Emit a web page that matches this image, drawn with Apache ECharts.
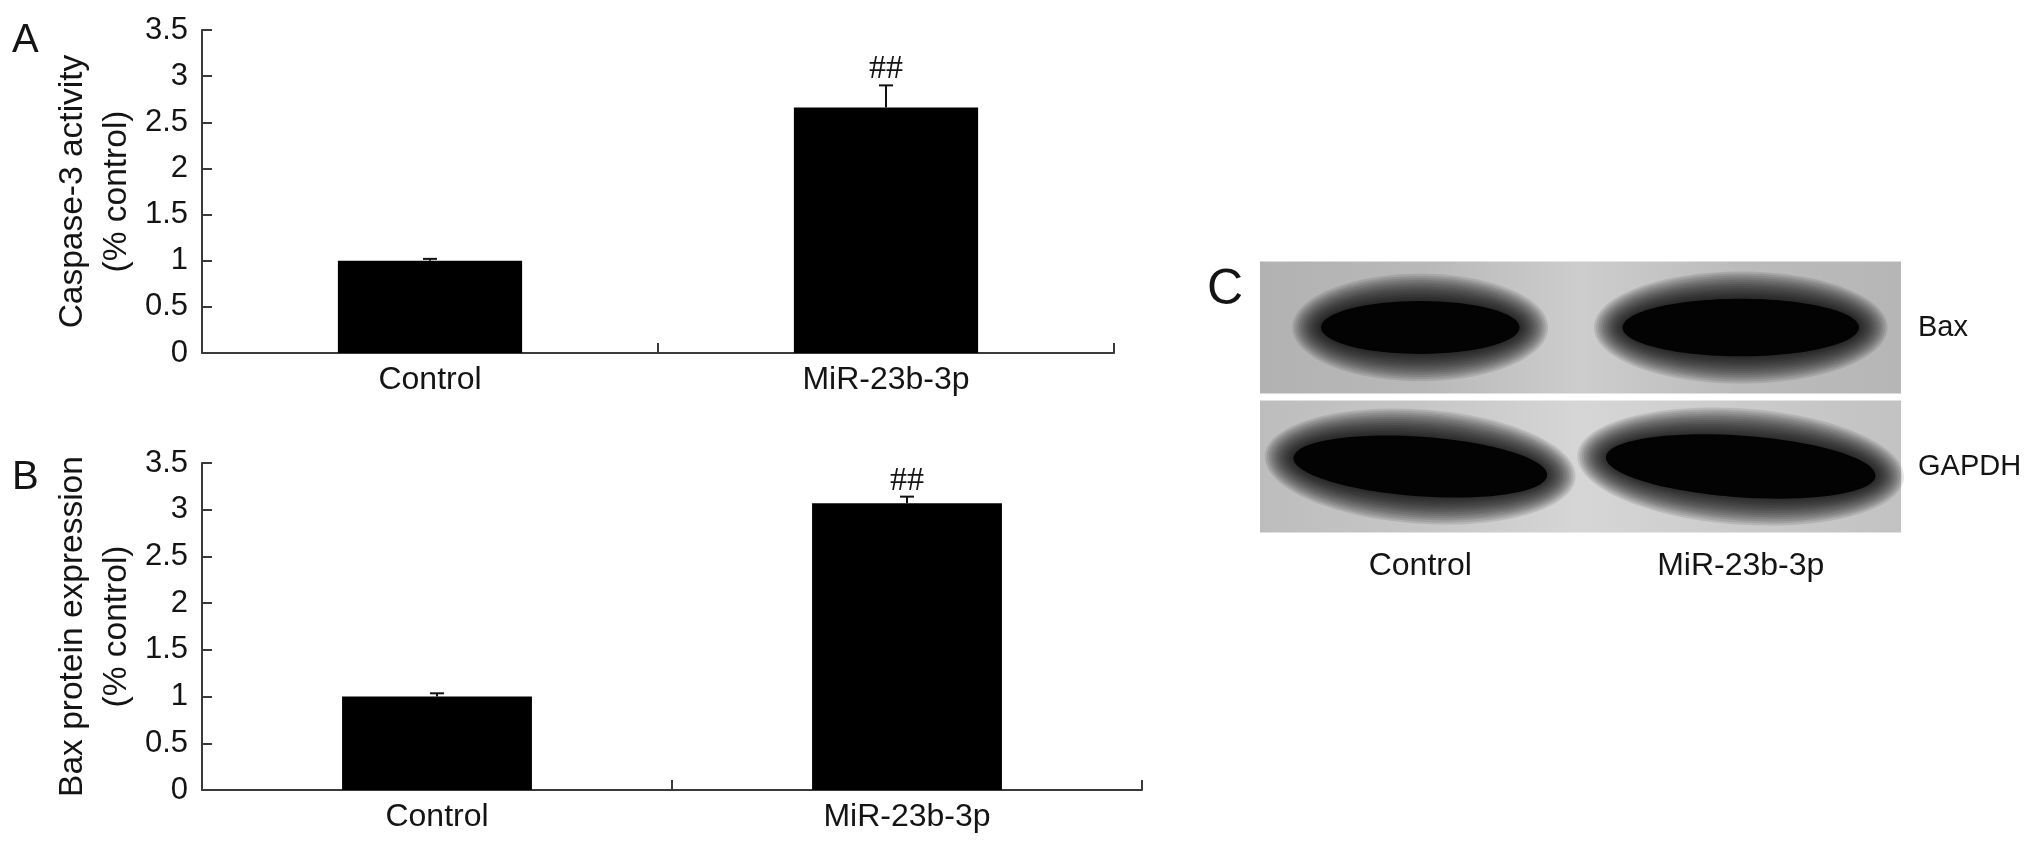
<!DOCTYPE html>
<html>
<head>
<meta charset="utf-8">
<style>
  html, body { margin: 0; padding: 0; background: #fff; }
  #chart { width: 2032px; height: 850px; }
</style>
<script src="https://cdn.jsdelivr.net/npm/echarts@6.0.0/dist/echarts.min.js"></script>
</head>
<body>
<div id="chart"></div>
<script>
// values
const categories = ['Control', 'MiR-23b-3p'];
const caspaseMean = [1.0, 2.66];
const caspaseErr = [0.02, 0.24];
const caspaseSig = ['', '##'];
const baxMean = [1.0, 3.07];
const baxErr = [0.035, 0.07];
const baxSig = ['', '##'];
// western blot, rows bottom -> top
const blotRows = ['GAPDH', 'Bax'];
// relative band density [lane, row, density]
const blotBands = [
  [0, 0, 1.28],
  [1, 0, 1.36],
  [0, 1, 1.0],
  [1, 1, 1.19],
];

const FONT = '"Liberation Sans", Arial, Helvetica, sans-serif';
const INK = '#141414';
const AXIS = '#3a3a3a';

let myChart = echarts.init(document.getElementById('chart'));

function barXAxis(gridIndex) {
  return {
    gridIndex,
    type: 'category',
    data: categories,
    axisLine: { show: true, lineStyle: { color: AXIS, width: 2 } },
    axisTick: { show: true, inside: true, length: 10, lineStyle: { color: AXIS, width: 2 } },
    axisLabel: { color: INK, fontFamily: FONT, fontSize: 32, margin: 11 },
    splitLine: { show: false },
  };
}

function barYAxis(gridIndex, name) {
  return {
    gridIndex,
    type: 'value',
    min: 0,
    max: 3.5,
    interval: 0.5,
    name,
    nameLocation: 'middle',
    nameRotate: 90,
    nameGap: 63,
    nameTextStyle: { color: INK, fontFamily: FONT, fontSize: 33.5, lineHeight: 44 },
    axisLine: { show: true, lineStyle: { color: AXIS, width: 2 } },
    axisTick: { show: true, inside: true, length: 10, lineStyle: { color: AXIS, width: 2 } },
    axisLabel: { color: INK, fontFamily: FONT, fontSize: 31, margin: 14 },
    splitLine: { show: false },
  };
}

// error bar (upper half only) + significance mark
function errorBars(sigs) {
  return function (params, api) {
    const x = api.value(0);
    const mean = api.value(1);
    const err = api.value(2);
    const base = api.coord([x, mean]);
    const top = api.coord([x, mean + err]);
    const lineStyle = { stroke: '#111', lineWidth: 2 };
    const children = [
      { type: 'line', shape: { x1: top[0], y1: base[1], x2: top[0], y2: top[1] }, style: lineStyle },
      { type: 'line', shape: { x1: top[0] - 7, y1: top[1], x2: top[0] + 7, y2: top[1] }, style: lineStyle },
    ];
    const sig = sigs[params.dataIndex];
    if (sig) {
      children.push({
        type: 'text',
        x: top[0],
        y: top[1] + 1,
        style: {
          text: sig,
          fill: INK,
          font: '34px "Liberation Serif", "Times New Roman", serif',
          align: 'center',
          verticalAlign: 'bottom',
        },
      });
    }
    return { type: 'group', children };
  };
}

// gray membrane strip for each blot row
function blotStrip(params, api) {
  const cs = params.coordSys;
  const row = api.value(0);
  const cy = api.coord([0, row])[1];
  const h = api.size([0, 1])[1];
  const tones = row === 0
    ? ['#bdbdbd', '#c6c6c6', '#d6d6d6', '#cbcbcb', '#c2c2c2']
    : ['#b2b2b2', '#b8b8b8', '#cdcdcd', '#bbbbbb', '#b6b6b6'];
  return {
    type: 'rect',
    shape: { x: cs.x, y: cy - h / 2 + 3.5, width: cs.width, height: h - 7 },
    style: {
      fill: new echarts.graphic.LinearGradient(0, 0, 1, 0, [
        { offset: 0, color: tones[0] },
        { offset: 0.25, color: tones[1] },
        { offset: 0.5, color: tones[2] },
        { offset: 0.75, color: tones[3] },
        { offset: 1, color: tones[4] },
      ]),
    },
  };
}

// fuzzy dark band: stacked translucent ellipses around a solid core
function blotBand(params, api) {
  const lane = api.value(0);
  const row = api.value(1);
  const d = api.value(2);
  const c = api.coord([lane, row]);
  const size = api.size([1, 1]);
  const rx = size[0] * 0.31 * d;
  const ry = size[1] * 0.19 * Math.sqrt(d);
  const children = [];
  const layers = 13;
  for (let k = layers; k >= 1; k--) {
    children.push({
      type: 'ellipse',
      shape: { cx: 0, cy: 0, rx: rx + k * 2.2, ry: ry + k * 2.1 },
      style: { fill: 'rgba(0,0,0,0.1)' },
    });
  }
  children.push({
    type: 'ellipse',
    shape: { cx: 0, cy: 0, rx, ry },
    style: { fill: '#030303' },
  });
  return {
    type: 'group',
    x: c[0],
    y: c[1],
    rotation: row === 0 ? -0.07 : 0,
    children,
  };
}

let option = {
  backgroundColor: '#fff',
  animation: false,
  title: [
    { text: 'A', left: 12, top: 21, padding: 0, textStyle: { fontFamily: FONT, fontSize: 40, fontWeight: 'normal', color: INK } },
    { text: 'B', left: 12, top: 458, padding: 0, textStyle: { fontFamily: FONT, fontSize: 40, fontWeight: 'normal', color: INK } },
    { text: 'C', left: 1207, top: 265, padding: 0, textStyle: { fontFamily: FONT, fontSize: 50, fontWeight: 'normal', color: INK } },
  ],
  grid: [
    { left: 202, top: 30, width: 912, height: 323, outerBoundsMode: 'none' },
    { left: 202, top: 463, width: 940, height: 327, outerBoundsMode: 'none' },
    { left: 1260, top: 258, width: 641, height: 278, outerBoundsMode: 'none' },
  ],
  xAxis: [
    barXAxis(0),
    barXAxis(1),
    {
      gridIndex: 2,
      type: 'category',
      data: categories,
      axisLine: { show: false },
      axisTick: { show: false },
      axisLabel: { color: INK, fontFamily: FONT, fontSize: 32, margin: 14 },
      splitLine: { show: false },
    },
  ],
  yAxis: [
    barYAxis(0, 'Caspase-3 activity\n(% control)'),
    barYAxis(1, 'Bax protein expression\n(% control)'),
    {
      gridIndex: 2,
      type: 'category',
      position: 'right',
      data: blotRows,
      axisLine: { show: false },
      axisTick: { show: false },
      axisLabel: { color: INK, fontFamily: FONT, fontSize: 29, margin: 17, align: 'left' },
      splitLine: { show: false },
    },
  ],
  series: [
    {
      name: 'Caspase-3',
      type: 'bar',
      xAxisIndex: 0,
      yAxisIndex: 0,
      barWidth: '40.4%',
      itemStyle: { color: '#000' },
      data: caspaseMean,
    },
    {
      name: 'Caspase-3 SD',
      type: 'custom',
      xAxisIndex: 0,
      yAxisIndex: 0,
      z: 5,
      renderItem: errorBars(caspaseSig),
      data: caspaseMean.map((m, i) => [i, m, caspaseErr[i]]),
    },
    {
      name: 'Bax',
      type: 'bar',
      xAxisIndex: 1,
      yAxisIndex: 1,
      barWidth: '40.4%',
      itemStyle: { color: '#000' },
      data: baxMean,
    },
    {
      name: 'Bax SD',
      type: 'custom',
      xAxisIndex: 1,
      yAxisIndex: 1,
      z: 5,
      renderItem: errorBars(baxSig),
      data: baxMean.map((m, i) => [i, m, baxErr[i]]),
    },
    {
      name: 'membrane',
      type: 'custom',
      xAxisIndex: 2,
      yAxisIndex: 2,
      z: 1,
      renderItem: blotStrip,
      data: blotRows.map((r, i) => [i]),
    },
    {
      name: 'bands',
      type: 'custom',
      xAxisIndex: 2,
      yAxisIndex: 2,
      z: 2,
      renderItem: blotBand,
      data: blotBands,
    },
  ],
};
myChart.setOption(option);
</script>
</body>
</html>
